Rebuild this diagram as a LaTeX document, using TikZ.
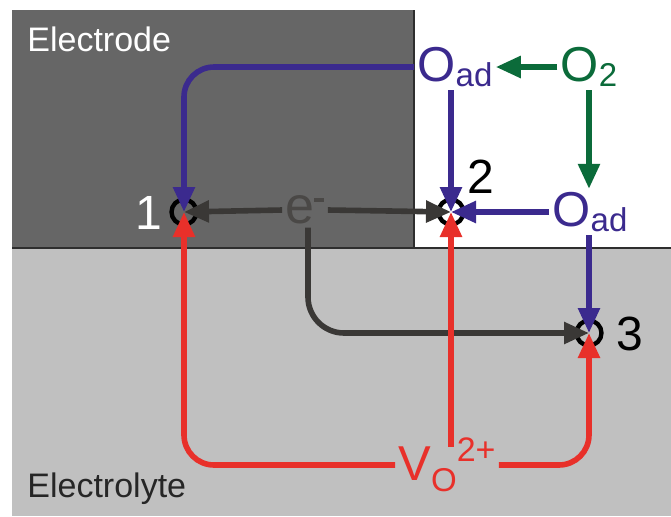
\documentclass[tikz,border=0pt]{standalone}
\usepackage{fontspec}
\setmainfont{Liberation Sans}
\usetikzlibrary{arrows.meta}
\definecolor{Slab}{HTML}{666666}
\definecolor{Bath}{HTML}{C0C0C0}
\definecolor{Edge}{HTML}{2E2E2E}
\definecolor{Ox}{HTML}{3B2A8E}
\definecolor{Gas}{HTML}{0B6B3A}
\definecolor{Vac}{HTML}{E8302A}
\definecolor{Elec}{HTML}{3A3836}
\definecolor{ElecText}{HTML}{4A4846}
\newcommand{\lowtxt}[1]{\raisebox{-2.5pt}{\fontsize{16.5}{16.5}\selectfont #1}}
\newcommand{\hightxt}[1]{\raisebox{9.5pt}{\fontsize{17}{17}\selectfont #1}}

\begin{document}
\begin{tikzpicture}[x=0.5pt, y=-0.5pt, >={Triangle[length=12.5pt,width=10.5pt]}]
\tikzset{species/.style={inner sep=1.5pt, font=\fontsize{24.5}{24.5}\selectfont},
  site/.style={circle, draw=black, line width=2.2pt, minimum size=12.5pt, inner sep=0pt},
  num/.style={font=\fontsize{24}{24}\selectfont},
  flow/.style={->, line width=2.8pt, rounded corners=15pt},
  region/.style={font=\fontsize{17}{17}\selectfont, anchor=base west, inner sep=0pt}}
\useasboundingbox (0,0) rectangle (671,516);
\fill[white] (0,0) rectangle (671,516);
% electrode and electrolyte
\fill[Slab] (12,10) rectangle (414,248);
\fill[Bath] (12,248) rectangle (671,516);
\draw[Edge, line width=0.9pt] (414,10) -- (414,248) (12,248) -- (671,248);
\node[region, white] (electrode) at (27,51) {Electrode};
\node[region, black!85] (electrolyte) at (27,497) {Electrolyte};
% reaction sites
\node[site] (c1) at (184,212) {};
\node[site] (c2) at (451,212) {};
\node[site] (c3) at (589,333) {};
\node[num, white] (n1) at (149,213) {1};
\node[num, black] (n2) at (481,177) {2};
\node[num, black] (n3) at (630,334) {3};
% species
\node[species, Ox] (oadT) at (455,67) {O\lowtxt{ad}};
\node[species, Gas] (o2) at (589,67) {O\lowtxt{2}};
\node[species, Ox] (oadR) at (590,212) {O\lowtxt{ad}};
\node[species, ElecText, font=\fontsize{26}{26}\selectfont] (e) at (305,210) {e\raisebox{11pt}{\rule{5pt}{2pt}}};
\node[species, Vac] (vo) at (447,465) {V\lowtxt{\raisebox{-3pt}{O}}\hightxt{2+}};
\coordinate (vtop) at (451,447);
% connectors
\draw[flow, Gas] (o2.west) -- (oadT.east);
\draw[flow, Gas] (o2.south) -- (o2.south |- oadR.north);
\draw[flow, Ox] (oadT.west) -| (c1.center);
\draw[flow, Ox] (oadT.south -| c2) -- (c2.center);
\draw[flow, Ox] (oadR.west) -- (c2.center);
\draw[flow, Ox] (oadR.south -| c3) -- (c3.center);
\draw[flow, Elec] (e.west) -- (c1.center);
\draw[flow, Elec] (e.east) -- (c2.center);
\draw[flow, Elec, rounded corners=18pt] (e.south -| 308,0) |- (c3.center);
\draw[flow, Vac] (vo.west) -| (c1.center);
\draw[flow, Vac] (vtop) -- (c2.center);
\draw[flow, Vac] (vo.east) -| (c3.center);
\end{tikzpicture}
\end{document}
